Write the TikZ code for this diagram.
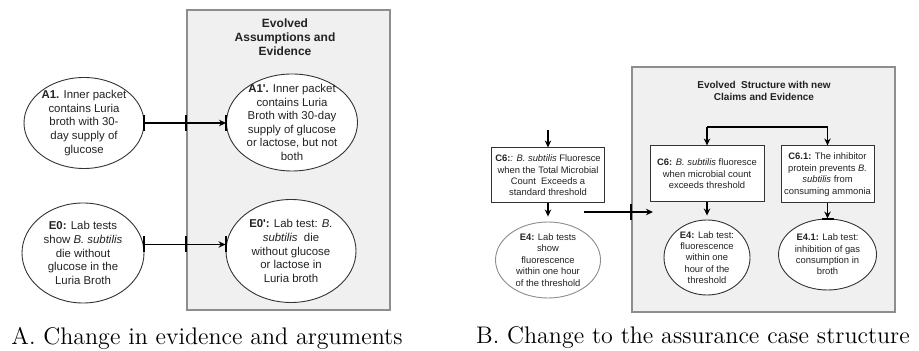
\documentclass[tikz,border=0pt]{standalone}
\usepackage{fontspec}
\newfontfamily\arial{Liberation Sans}
\usetikzlibrary{shapes.geometric,arrows.meta}
\definecolor{panelfill}{HTML}{F0F0F0}
\definecolor{panelline}{HTML}{8E8E8E}
\definecolor{inkgray}{HTML}{222222}

\begin{document}
\begin{tikzpicture}[x=0.5pt,y=-0.5pt,
    >={Stealth[length=3.5pt,width=3.2pt]},
    panel/.style={draw=panelline,fill=panelfill,line width=0.6pt,inner sep=0pt},
    claim/.style={draw=black!80,fill=white,line width=0.5pt,inner sep=0pt,align=center,
      text=inkgray,font=\arial\fontsize{4.7}{5.7}\selectfont},
    oval/.style={ellipse,draw=black!80,fill=white,line width=0.45pt,inner sep=-6pt,align=center,text=inkgray},
    bigoval/.style={oval,font=\arial\fontsize{5.7}{6.8}\selectfont},
    smalloval/.style={oval,font=\arial\fontsize{4.7}{5.7}\selectfont},
    conn/.style={->,line width=0.75pt},
    tickbar/.style={line width=1pt},
    caption/.style={font=\fontsize{12}{14}\selectfont}]
    \useasboundingbox (0,0) rectangle (919,351);

    % A. evidence and arguments
    \node[panel,minimum width=101.5pt,minimum height=150pt] (boxA) at (288.5,160) {};
    \node[align=center,text=inkgray,font=\arial\bfseries\fontsize{6}{7}\selectfont] (titleA) at (285,37)
      {Evolved\\Assumptions and\\Evidence};

    \node[bigoval,minimum width=60pt,minimum height=45.5pt] (a1) at (84,123)
      {\textbf{A1.} Inner packet\\contains Luria\\broth with 30-\\day supply of\\glucose};
    \node[bigoval,minimum width=65.5pt,minimum height=48.5pt] (a1p) at (292,122.5)
      {\textbf{A1'.} Inner packet\\contains Luria\\Broth with 30-day\\supply of glucose\\or lactose, but not\\both};
    \node[bigoval,minimum width=61pt,minimum height=50pt] (e0) at (83,253)
      {\textbf{E0:} Lab tests\\show \textit{B. subtilis}\\die without\\glucose in the\\Luria Broth};
    \node[bigoval,minimum width=65pt,minimum height=51.5pt] (e0p) at (291,251)
      {\textbf{E0':} Lab test: \textit{B.}\\\textit{subtilis}~ die\\without glucose\\or lactose in\\Luria broth};

    % evolved links
    \draw[conn] (a1.east) -- (a1.east -| a1p.west);
    \draw[tickbar] (a1.east) ++(0,-8) -- ++(0,16);
    \draw[tickbar] (a1.east -| boxA.west) ++(0,-8) -- ++(0,16);
    \draw[tickbar] (a1.east -| a1p.west) ++(0,-8) -- ++(0,16);

    \draw[conn] (e0.8) -- (e0.8 -| e0p.west);
    \draw[tickbar] (e0.8) ++(0,-8) -- ++(0,16);
    \draw[tickbar] (e0.8 -| boxA.west) ++(0,-8) -- ++(0,16);
    \draw[tickbar] (e0.8 -| e0p.west) ++(0,-8) -- ++(0,16);

    % B. assurance case structure
    \node[claim,minimum width=56.5pt,minimum height=27.5pt] (c6old) at (548,175.5)
      {\textbf{C6:}\textit{: B. subtilis} Fluoresce\\when the Total Microbial\\Count~ Exceeds a\\standard threshold};
    \node[smalloval,draw=black!45,minimum width=52.5pt,minimum height=38pt] (e4old) at (548,260)
      {\textbf{E4:} Lab tests\\show\\fluorescence\\within one hour\\of the threshold};
    \coordinate (c6in) at (548,130);
    \draw[conn] (c6in) -- (c6old);
    \draw[conn,shorten >=2.5pt] (c6old) -- (e4old);

    \node[panel,minimum width=131.5pt,minimum height=122.5pt] (boxB) at (763.5,189.5) {};
    \node[align=center,text=inkgray,font=\arial\bfseries\fontsize{5}{6}\selectfont] (titleB) at (764,91)
      {Evolved~ Structure with new\\Claims and Evidence};

    \node[claim,minimum width=57pt,minimum height=28pt] (c6new) at (707,174)
      {\textbf{C6:} \textit{B. subtilis} fluoresce\\when microbial count\\exceeds threshold};
    \node[claim,minimum width=46.5pt,minimum height=28.5pt] (c61) at (827.5,174.5)
      {\textbf{C6.1:} The inhibitor\\protein prevents \textit{B.}\\\textit{subtilis} from\\consuming ammonia};
    \node[smalloval,minimum width=43pt,minimum height=37.5pt] (e4new) at (707,257.5)
      {\textbf{E4:} Lab test:\\fluorescence\\within one\\hour of the\\threshold};
    \node[smalloval,minimum width=49pt,minimum height=35.5pt] (e41) at (827.5,254.5)
      {\textbf{E4.1:} Lab test:\\inhibition of gas\\consumption in\\broth};

    % split above the claims
    \draw[line width=1pt] (c6new.north) ++(0,-18) coordinate (splitL) -- (splitL -| c61.north) coordinate (splitR);
    \draw[conn] (splitL) -- (c6new);
    \draw[conn] (splitR) -- (c61);
    \draw[conn,shorten >=2pt] (c6new) -- (e4new);
    \draw[conn] (c61) -- (e41);
    \draw[tickbar] (e41.north) ++(-6,0) -- ++(12,0);

    % change arrow
    \coordinate (shiftL) at (584,212);
    \coordinate (shiftR) at (653,212);
    \draw[conn] (shiftL) -- (shiftR);
    \draw[tickbar] (shiftL -| boxB.west) ++(0,-8) -- ++(0,16);

    % captions
    \node[caption] (capA) at (207,338) {A. Change in evidence and arguments};
    \node[caption] (capB) at (693,338) {B. Change to the assurance case structure};
\end{tikzpicture}
\end{document}
